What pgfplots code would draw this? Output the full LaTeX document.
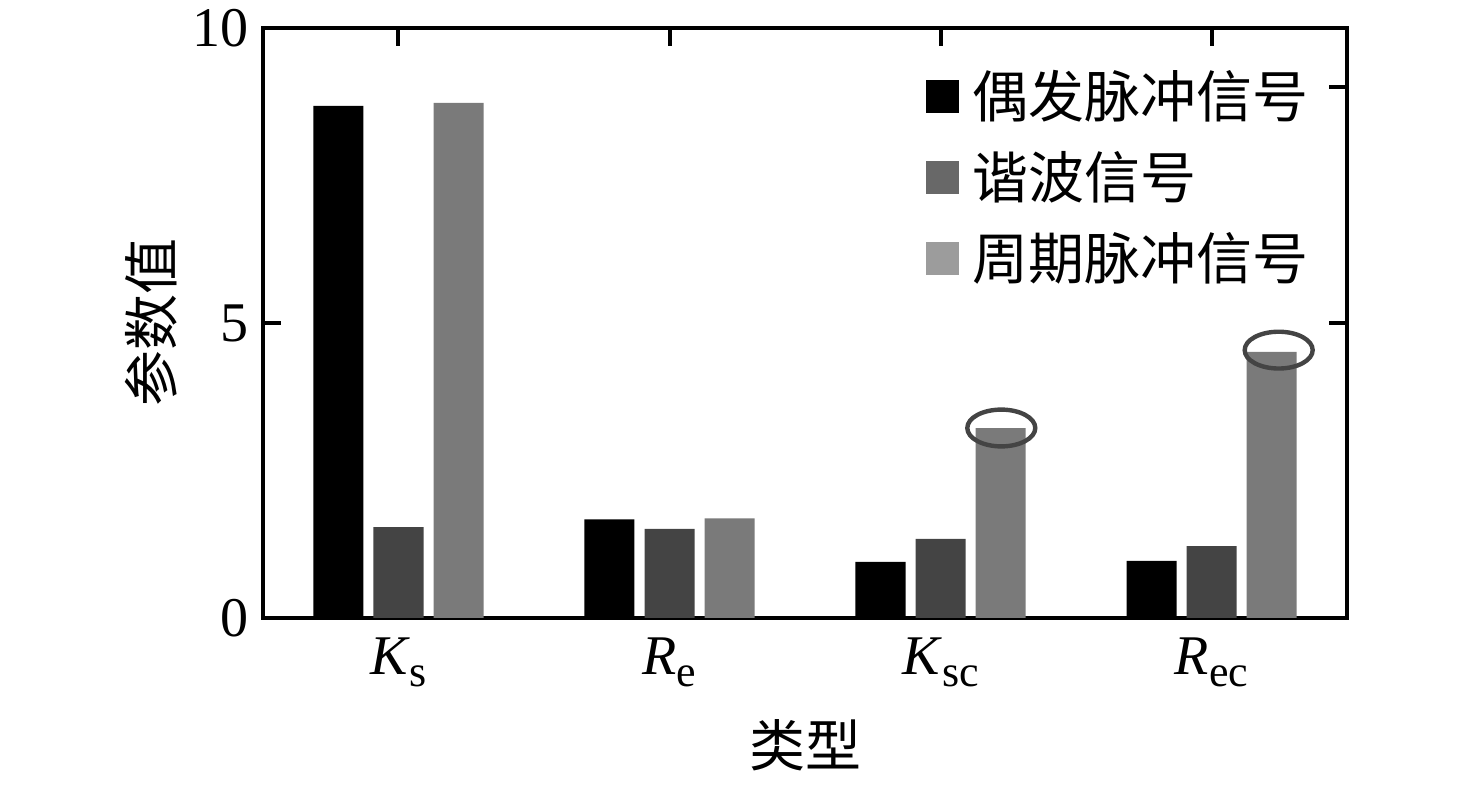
\documentclass[border=0pt]{standalone}
\usepackage{fontspec}
\setmainfont{Liberation Serif}
\newfontfamily\cjk{Noto Sans CJK SC}
\usepackage{pgfplots}
\pgfplotsset{compat=1.18}
\definecolor{c1}{HTML}{000000}
\definecolor{c2}{HTML}{444444}
\definecolor{c3}{HTML}{7A7A7A}
\definecolor{l2}{HTML}{686868}
\definecolor{l3}{HTML}{9C9C9C}
\pgfplotsset{
  legsq/.style={legend image code/.code={\fill[##1, draw=none] (0pt,-4.1pt) rectangle (8.25pt,4.1pt);}}
}
\newcommand{\sub}[1]{\raisebox{-0.45ex}{\fontsize{11pt}{12pt}\selectfont #1}}
\begin{document}
\begin{tikzpicture}
\useasboundingbox (-65.75pt,-42.25pt) rectangle (303.25pt,154.5pt);
\begin{axis}[
  scale only axis, width=271pt, height=147.5pt,
  xmin=-0.5, xmax=3.5, ymin=0, ymax=10,
  xtick={0,1,2,3},
  xticklabels={\textit{K}\sub{s}, \textit{R}\sub{e}, \textit{K}\sub{sc}, \textit{R}\sub{ec}},
  xticklabel style={yshift=-1.5pt},
  ytick={0,5,10},
  tick align=inside, major tick length=4.5pt,
  xtick pos=both, ytick pos=left,
  axis line style={line width=1pt},
  every tick/.style={line width=1pt, black},
  font=\fontsize{14pt}{16pt}\selectfont,
  /pgf/number format/assume math mode=true,
  ylabel={\cjk 参数值}, xlabel={\cjk 类型},
  ylabel style={at={(axis description cs:-0.103,0.5)}, anchor=center},
  xlabel style={at={(axis description cs:0.5,-0.215)}, anchor=center},
  legend cell align=left,
  legend style={at={(rel axis cs:0.6107,0.9237)}, anchor=north west, draw=none, fill=none,
    inner sep=0pt, row sep=8.85pt, column sep=3.5pt,
    font=\fontsize{14pt}{16pt}\selectfont,
    nodes={inner sep=0pt, text height=11pt, text depth=0.4pt}},
]
\addlegendimage{legsq, fill=c1, draw=none}
\addlegendentry{\cjk 偶发脉冲信号}
\addlegendimage{legsq, fill=l2, draw=none}
\addlegendentry{\cjk 谐波信号}
\addlegendimage{legsq, fill=l3, draw=none}
\addlegendentry{\cjk 周期脉冲信号}
\addplot[ybar, bar width=12.5pt, bar shift=-15pt, fill=c1, draw=none, forget plot]
  coordinates {(0,8.68) (1,1.67) (2,0.95) (3,0.97)};
\addplot[ybar, bar width=12.5pt, bar shift=0pt, fill=c2, draw=none, forget plot]
  coordinates {(0,1.54) (1,1.51) (2,1.34) (3,1.22)};
\addplot[ybar, bar width=12.5pt, bar shift=15pt, fill=c3, draw=none, forget plot]
  coordinates {(0,8.73) (1,1.69) (2,3.22) (3,4.51)};
\draw[line width=1.1pt, c2] ([xshift=15.2pt]axis cs:2,3.22) ellipse [x radius=8.5pt, y radius=4.6pt];
\draw[line width=1.1pt, c2] ([xshift=16.8pt]axis cs:3,4.54) ellipse [x radius=8.5pt, y radius=4.6pt];
\end{axis}
\begin{axis}[
  scale only axis, width=271pt, height=147.5pt,
  xmin=-0.5, xmax=3.5, ymin=0, ymax=10,
  axis y line*=right, hide x axis,
  ytick={5,9}, yticklabels={},
  tick align=inside, major tick length=4.5pt,
  axis line style={line width=1pt},
  every tick/.style={line width=1pt, black},
]
\end{axis}
\end{tikzpicture}
\end{document}
